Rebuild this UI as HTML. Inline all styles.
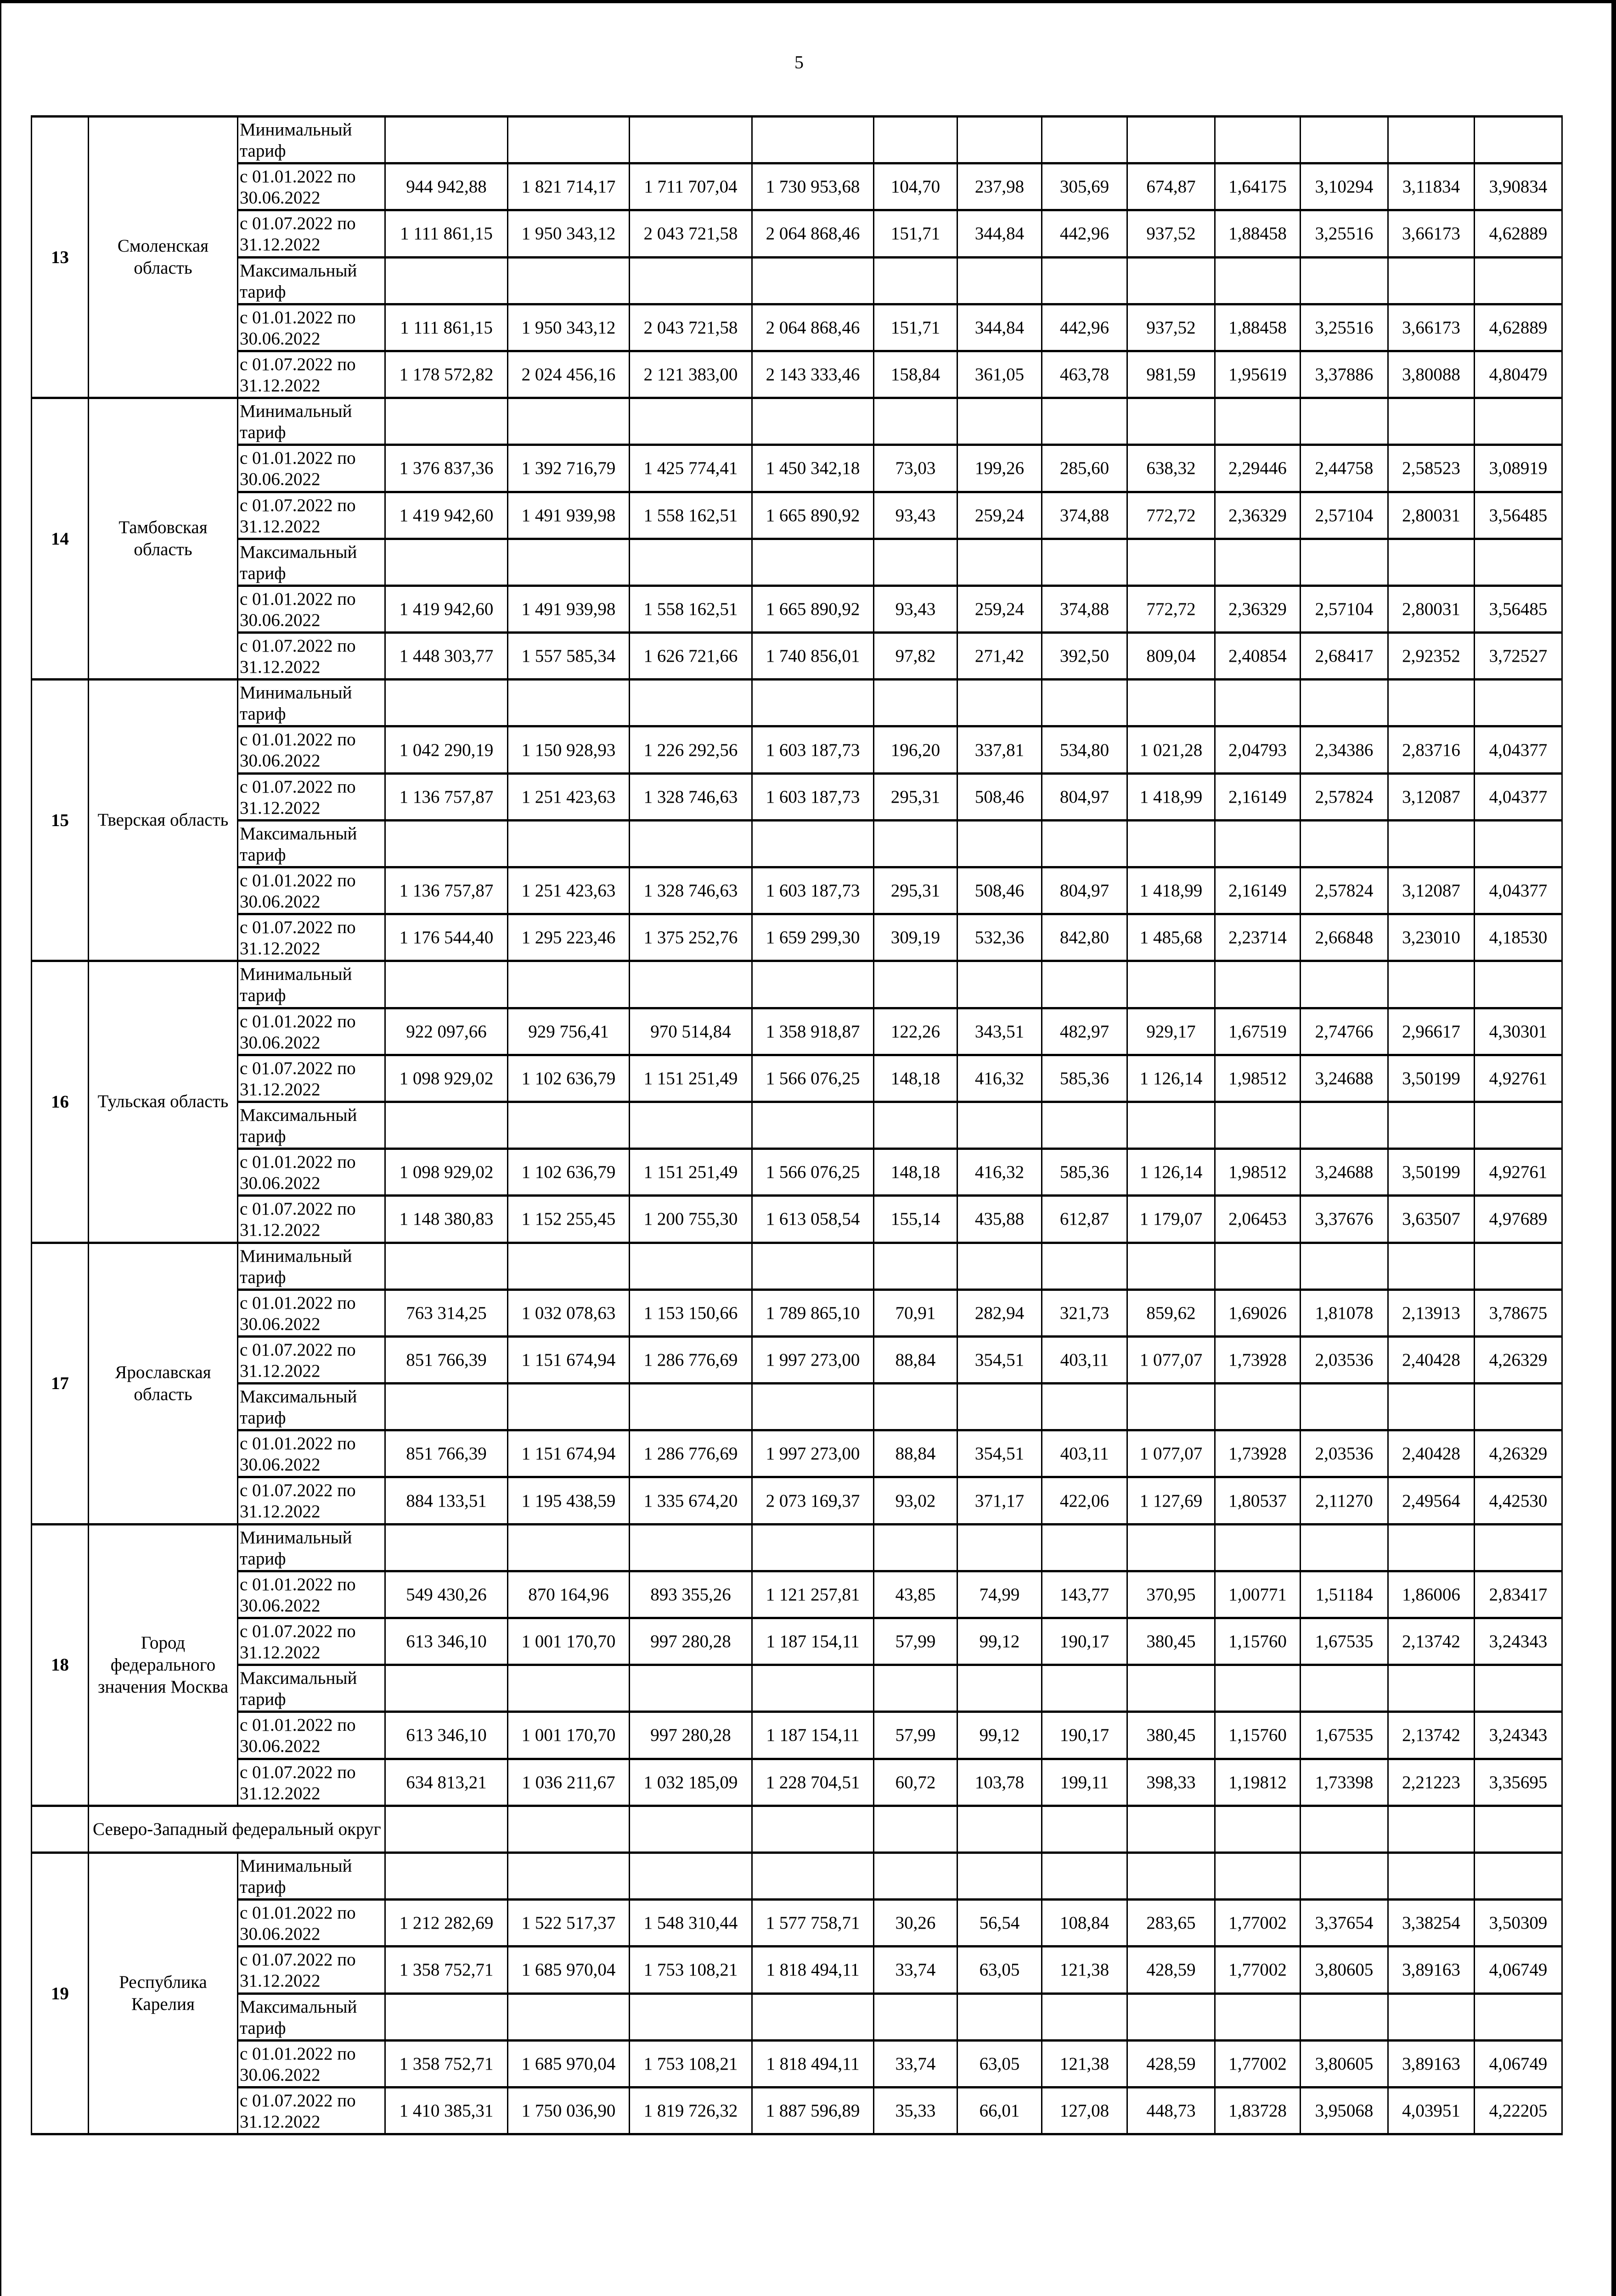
<!DOCTYPE html>
<html><head><meta charset="utf-8">
<style>
html,body{margin:0;padding:0;background:#fff;}
body{width:3519px;height:5025px;position:relative;overflow:hidden;font-family:"Liberation Serif","DejaVu Serif",serif;color:#000;}
.frame{position:absolute;left:0;top:0;width:3519px;height:5025px;box-sizing:border-box;border-top:7px solid #000;border-right:10px solid #000;border-bottom:14px solid #000;border-left:3px solid #000;z-index:2;}
.pg{position:absolute;left:1730px;top:112px;font-size:40px;}
table{position:absolute;left:67px;top:251px;width:3333px;border-collapse:collapse;table-layout:fixed;font-size:39px;}
td{border-left:3px solid #000;border-right:3px solid #000;border-top:5px solid #000;border-bottom:5px solid #000;padding:0;text-align:center;vertical-align:middle;white-space:nowrap;overflow:visible;line-height:43px;}
tr{height:102.2px;}
td.p{text-align:left;vertical-align:top;padding-left:3px;padding-top:4px;line-height:46px;}
td.n{font-weight:bold;}
td.r{white-space:normal;line-height:48px;}
td.s{text-align:left;padding-left:8px;}
</style></head><body>
<div class="frame"></div>
<div class="pg">5</div>
<table>
<colgroup>
<col style="width:124px"><col style="width:325px"><col style="width:321px"><col style="width:267px"><col style="width:265px"><col style="width:267px"><col style="width:265px"><col style="width:182px"><col style="width:184px"><col style="width:186px"><col style="width:191px"><col style="width:186px"><col style="width:191px"><col style="width:188px"><col style="width:191px">
</colgroup>
<!-- 13 -->
<tr><td rowspan="6" class="n">13</td><td rowspan="6" class="r">Смоленская<br>область</td><td class="p">Минимальный<br>тариф</td><td></td><td></td><td></td><td></td><td></td><td></td><td></td><td></td><td></td><td></td><td></td><td></td></tr>
<tr><td class="p">с 01.01.2022 по<br>30.06.2022</td><td>944 942,88</td><td>1 821 714,17</td><td>1 711 707,04</td><td>1 730 953,68</td><td>104,70</td><td>237,98</td><td>305,69</td><td>674,87</td><td>1,64175</td><td>3,10294</td><td>3,11834</td><td>3,90834</td></tr>
<tr><td class="p">с 01.07.2022 по<br>31.12.2022</td><td>1 111 861,15</td><td>1 950 343,12</td><td>2 043 721,58</td><td>2 064 868,46</td><td>151,71</td><td>344,84</td><td>442,96</td><td>937,52</td><td>1,88458</td><td>3,25516</td><td>3,66173</td><td>4,62889</td></tr>
<tr><td class="p">Максимальный<br>тариф</td><td></td><td></td><td></td><td></td><td></td><td></td><td></td><td></td><td></td><td></td><td></td><td></td></tr>
<tr><td class="p">с 01.01.2022 по<br>30.06.2022</td><td>1 111 861,15</td><td>1 950 343,12</td><td>2 043 721,58</td><td>2 064 868,46</td><td>151,71</td><td>344,84</td><td>442,96</td><td>937,52</td><td>1,88458</td><td>3,25516</td><td>3,66173</td><td>4,62889</td></tr>
<tr><td class="p">с 01.07.2022 по<br>31.12.2022</td><td>1 178 572,82</td><td>2 024 456,16</td><td>2 121 383,00</td><td>2 143 333,46</td><td>158,84</td><td>361,05</td><td>463,78</td><td>981,59</td><td>1,95619</td><td>3,37886</td><td>3,80088</td><td>4,80479</td></tr>
<!-- 14 -->
<tr><td rowspan="6" class="n">14</td><td rowspan="6" class="r">Тамбовская<br>область</td><td class="p">Минимальный<br>тариф</td><td></td><td></td><td></td><td></td><td></td><td></td><td></td><td></td><td></td><td></td><td></td><td></td></tr>
<tr><td class="p">с 01.01.2022 по<br>30.06.2022</td><td>1 376 837,36</td><td>1 392 716,79</td><td>1 425 774,41</td><td>1 450 342,18</td><td>73,03</td><td>199,26</td><td>285,60</td><td>638,32</td><td>2,29446</td><td>2,44758</td><td>2,58523</td><td>3,08919</td></tr>
<tr><td class="p">с 01.07.2022 по<br>31.12.2022</td><td>1 419 942,60</td><td>1 491 939,98</td><td>1 558 162,51</td><td>1 665 890,92</td><td>93,43</td><td>259,24</td><td>374,88</td><td>772,72</td><td>2,36329</td><td>2,57104</td><td>2,80031</td><td>3,56485</td></tr>
<tr><td class="p">Максимальный<br>тариф</td><td></td><td></td><td></td><td></td><td></td><td></td><td></td><td></td><td></td><td></td><td></td><td></td></tr>
<tr><td class="p">с 01.01.2022 по<br>30.06.2022</td><td>1 419 942,60</td><td>1 491 939,98</td><td>1 558 162,51</td><td>1 665 890,92</td><td>93,43</td><td>259,24</td><td>374,88</td><td>772,72</td><td>2,36329</td><td>2,57104</td><td>2,80031</td><td>3,56485</td></tr>
<tr><td class="p">с 01.07.2022 по<br>31.12.2022</td><td>1 448 303,77</td><td>1 557 585,34</td><td>1 626 721,66</td><td>1 740 856,01</td><td>97,82</td><td>271,42</td><td>392,50</td><td>809,04</td><td>2,40854</td><td>2,68417</td><td>2,92352</td><td>3,72527</td></tr>
<!-- 15 -->
<tr><td rowspan="6" class="n">15</td><td rowspan="6" class="r">Тверская область</td><td class="p">Минимальный<br>тариф</td><td></td><td></td><td></td><td></td><td></td><td></td><td></td><td></td><td></td><td></td><td></td><td></td></tr>
<tr><td class="p">с 01.01.2022 по<br>30.06.2022</td><td>1 042 290,19</td><td>1 150 928,93</td><td>1 226 292,56</td><td>1 603 187,73</td><td>196,20</td><td>337,81</td><td>534,80</td><td>1 021,28</td><td>2,04793</td><td>2,34386</td><td>2,83716</td><td>4,04377</td></tr>
<tr><td class="p">с 01.07.2022 по<br>31.12.2022</td><td>1 136 757,87</td><td>1 251 423,63</td><td>1 328 746,63</td><td>1 603 187,73</td><td>295,31</td><td>508,46</td><td>804,97</td><td>1 418,99</td><td>2,16149</td><td>2,57824</td><td>3,12087</td><td>4,04377</td></tr>
<tr><td class="p">Максимальный<br>тариф</td><td></td><td></td><td></td><td></td><td></td><td></td><td></td><td></td><td></td><td></td><td></td><td></td></tr>
<tr><td class="p">с 01.01.2022 по<br>30.06.2022</td><td>1 136 757,87</td><td>1 251 423,63</td><td>1 328 746,63</td><td>1 603 187,73</td><td>295,31</td><td>508,46</td><td>804,97</td><td>1 418,99</td><td>2,16149</td><td>2,57824</td><td>3,12087</td><td>4,04377</td></tr>
<tr><td class="p">с 01.07.2022 по<br>31.12.2022</td><td>1 176 544,40</td><td>1 295 223,46</td><td>1 375 252,76</td><td>1 659 299,30</td><td>309,19</td><td>532,36</td><td>842,80</td><td>1 485,68</td><td>2,23714</td><td>2,66848</td><td>3,23010</td><td>4,18530</td></tr>
<!-- 16 -->
<tr><td rowspan="6" class="n">16</td><td rowspan="6" class="r">Тульская область</td><td class="p">Минимальный<br>тариф</td><td></td><td></td><td></td><td></td><td></td><td></td><td></td><td></td><td></td><td></td><td></td><td></td></tr>
<tr><td class="p">с 01.01.2022 по<br>30.06.2022</td><td>922 097,66</td><td>929 756,41</td><td>970 514,84</td><td>1 358 918,87</td><td>122,26</td><td>343,51</td><td>482,97</td><td>929,17</td><td>1,67519</td><td>2,74766</td><td>2,96617</td><td>4,30301</td></tr>
<tr><td class="p">с 01.07.2022 по<br>31.12.2022</td><td>1 098 929,02</td><td>1 102 636,79</td><td>1 151 251,49</td><td>1 566 076,25</td><td>148,18</td><td>416,32</td><td>585,36</td><td>1 126,14</td><td>1,98512</td><td>3,24688</td><td>3,50199</td><td>4,92761</td></tr>
<tr><td class="p">Максимальный<br>тариф</td><td></td><td></td><td></td><td></td><td></td><td></td><td></td><td></td><td></td><td></td><td></td><td></td></tr>
<tr><td class="p">с 01.01.2022 по<br>30.06.2022</td><td>1 098 929,02</td><td>1 102 636,79</td><td>1 151 251,49</td><td>1 566 076,25</td><td>148,18</td><td>416,32</td><td>585,36</td><td>1 126,14</td><td>1,98512</td><td>3,24688</td><td>3,50199</td><td>4,92761</td></tr>
<tr><td class="p">с 01.07.2022 по<br>31.12.2022</td><td>1 148 380,83</td><td>1 152 255,45</td><td>1 200 755,30</td><td>1 613 058,54</td><td>155,14</td><td>435,88</td><td>612,87</td><td>1 179,07</td><td>2,06453</td><td>3,37676</td><td>3,63507</td><td>4,97689</td></tr>
<!-- 17 -->
<tr><td rowspan="6" class="n">17</td><td rowspan="6" class="r">Ярославская<br>область</td><td class="p">Минимальный<br>тариф</td><td></td><td></td><td></td><td></td><td></td><td></td><td></td><td></td><td></td><td></td><td></td><td></td></tr>
<tr><td class="p">с 01.01.2022 по<br>30.06.2022</td><td>763 314,25</td><td>1 032 078,63</td><td>1 153 150,66</td><td>1 789 865,10</td><td>70,91</td><td>282,94</td><td>321,73</td><td>859,62</td><td>1,69026</td><td>1,81078</td><td>2,13913</td><td>3,78675</td></tr>
<tr><td class="p">с 01.07.2022 по<br>31.12.2022</td><td>851 766,39</td><td>1 151 674,94</td><td>1 286 776,69</td><td>1 997 273,00</td><td>88,84</td><td>354,51</td><td>403,11</td><td>1 077,07</td><td>1,73928</td><td>2,03536</td><td>2,40428</td><td>4,26329</td></tr>
<tr><td class="p">Максимальный<br>тариф</td><td></td><td></td><td></td><td></td><td></td><td></td><td></td><td></td><td></td><td></td><td></td><td></td></tr>
<tr><td class="p">с 01.01.2022 по<br>30.06.2022</td><td>851 766,39</td><td>1 151 674,94</td><td>1 286 776,69</td><td>1 997 273,00</td><td>88,84</td><td>354,51</td><td>403,11</td><td>1 077,07</td><td>1,73928</td><td>2,03536</td><td>2,40428</td><td>4,26329</td></tr>
<tr><td class="p">с 01.07.2022 по<br>31.12.2022</td><td>884 133,51</td><td>1 195 438,59</td><td>1 335 674,20</td><td>2 073 169,37</td><td>93,02</td><td>371,17</td><td>422,06</td><td>1 127,69</td><td>1,80537</td><td>2,11270</td><td>2,49564</td><td>4,42530</td></tr>
<!-- 18 -->
<tr><td rowspan="6" class="n">18</td><td rowspan="6" class="r">Город<br>федерального<br>значения Москва</td><td class="p">Минимальный<br>тариф</td><td></td><td></td><td></td><td></td><td></td><td></td><td></td><td></td><td></td><td></td><td></td><td></td></tr>
<tr><td class="p">с 01.01.2022 по<br>30.06.2022</td><td>549 430,26</td><td>870 164,96</td><td>893 355,26</td><td>1 121 257,81</td><td>43,85</td><td>74,99</td><td>143,77</td><td>370,95</td><td>1,00771</td><td>1,51184</td><td>1,86006</td><td>2,83417</td></tr>
<tr><td class="p">с 01.07.2022 по<br>31.12.2022</td><td>613 346,10</td><td>1 001 170,70</td><td>997 280,28</td><td>1 187 154,11</td><td>57,99</td><td>99,12</td><td>190,17</td><td>380,45</td><td>1,15760</td><td>1,67535</td><td>2,13742</td><td>3,24343</td></tr>
<tr><td class="p">Максимальный<br>тариф</td><td></td><td></td><td></td><td></td><td></td><td></td><td></td><td></td><td></td><td></td><td></td><td></td></tr>
<tr><td class="p">с 01.01.2022 по<br>30.06.2022</td><td>613 346,10</td><td>1 001 170,70</td><td>997 280,28</td><td>1 187 154,11</td><td>57,99</td><td>99,12</td><td>190,17</td><td>380,45</td><td>1,15760</td><td>1,67535</td><td>2,13742</td><td>3,24343</td></tr>
<tr><td class="p">с 01.07.2022 по<br>31.12.2022</td><td>634 813,21</td><td>1 036 211,67</td><td>1 032 185,09</td><td>1 228 704,51</td><td>60,72</td><td>103,78</td><td>199,11</td><td>398,33</td><td>1,19812</td><td>1,73398</td><td>2,21223</td><td>3,35695</td></tr>
<!-- separator -->
<tr><td></td><td colspan="2" class="s">Северо-Западный федеральный округ</td><td></td><td></td><td></td><td></td><td></td><td></td><td></td><td></td><td></td><td></td><td></td><td></td></tr>
<!-- 19 -->
<tr><td rowspan="6" class="n">19</td><td rowspan="6" class="r">Республика<br>Карелия</td><td class="p">Минимальный<br>тариф</td><td></td><td></td><td></td><td></td><td></td><td></td><td></td><td></td><td></td><td></td><td></td><td></td></tr>
<tr><td class="p">с 01.01.2022 по<br>30.06.2022</td><td>1 212 282,69</td><td>1 522 517,37</td><td>1 548 310,44</td><td>1 577 758,71</td><td>30,26</td><td>56,54</td><td>108,84</td><td>283,65</td><td>1,77002</td><td>3,37654</td><td>3,38254</td><td>3,50309</td></tr>
<tr><td class="p">с 01.07.2022 по<br>31.12.2022</td><td>1 358 752,71</td><td>1 685 970,04</td><td>1 753 108,21</td><td>1 818 494,11</td><td>33,74</td><td>63,05</td><td>121,38</td><td>428,59</td><td>1,77002</td><td>3,80605</td><td>3,89163</td><td>4,06749</td></tr>
<tr><td class="p">Максимальный<br>тариф</td><td></td><td></td><td></td><td></td><td></td><td></td><td></td><td></td><td></td><td></td><td></td><td></td></tr>
<tr><td class="p">с 01.01.2022 по<br>30.06.2022</td><td>1 358 752,71</td><td>1 685 970,04</td><td>1 753 108,21</td><td>1 818 494,11</td><td>33,74</td><td>63,05</td><td>121,38</td><td>428,59</td><td>1,77002</td><td>3,80605</td><td>3,89163</td><td>4,06749</td></tr>
<tr><td class="p">с 01.07.2022 по<br>31.12.2022</td><td>1 410 385,31</td><td>1 750 036,90</td><td>1 819 726,32</td><td>1 887 596,89</td><td>35,33</td><td>66,01</td><td>127,08</td><td>448,73</td><td>1,83728</td><td>3,95068</td><td>4,03951</td><td>4,22205</td></tr>
</table>
</body></html>
